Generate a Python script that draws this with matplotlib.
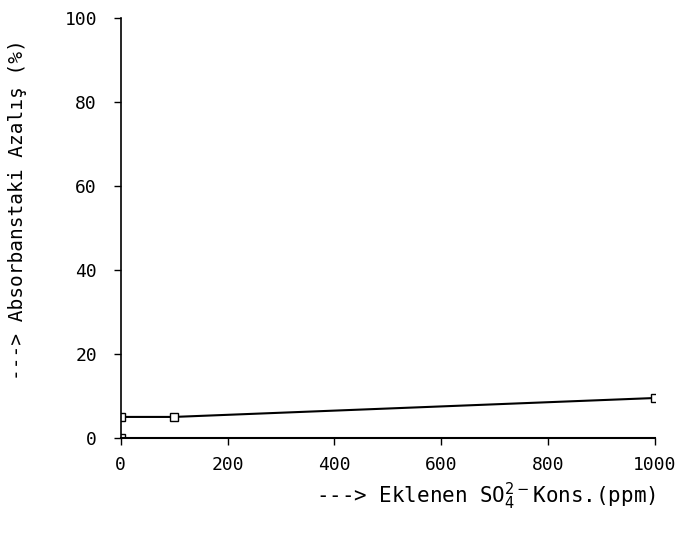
import matplotlib
matplotlib.use("Agg")
import matplotlib.pyplot as plt

# Data
x_vals = [0, 100, 1000]
series_low = [0, 0, 0]
series_high = [5.0, 5.0, 9.5]
x_ticks = [0, 200, 400, 600, 800, 1000]
y_ticks = [0, 20, 40, 60, 80, 100]

plt.rcParams['font.family'] = ['DejaVu Sans Mono', 'DejaVu Sans']

fig = plt.figure(figsize=(6.82, 5.38), dpi=100)
ax = fig.add_axes([0.177, 0.186, 0.783, 0.781])

ax.plot(x_vals, series_high, color='black', lw=1.5, marker='s', markersize=6,
        markerfacecolor='white', markeredgecolor='black', markevery=[0, 1, 2])
ax.plot(x_vals, series_low, color='black', lw=2.0, marker='s', markersize=6,
        markerfacecolor='white', markeredgecolor='black', markevery=[0])

ax.set_xlim(0, 1000)
ax.set_ylim(0, 100)
ax.set_xticks(x_ticks)
ax.set_yticks(y_ticks)
ax.tick_params(direction='out', length=5, width=1, labelsize=13, colors='black')
ax.tick_params(axis='x', pad=8)
ax.tick_params(axis='y', pad=12)
for s in ['top', 'right']:
    ax.spines[s].set_visible(False)
ax.spines['left'].set_linewidth(1.2)
ax.spines['bottom'].set_linewidth(1.5)
ax.spines['left'].set_linestyle((0, (4, 1)))

fig.text(0.962, 0.078, r'---> Eklenen SO$_4^{2-}$Kons.(ppm)', ha='right', va='center', fontsize=15)
fig.text(0.025, 0.61, '---> Absorbanstaki Azalış (%)', rotation=90, ha='center', va='center', fontsize=14)

fig.savefig('out.png', dpi=100)
